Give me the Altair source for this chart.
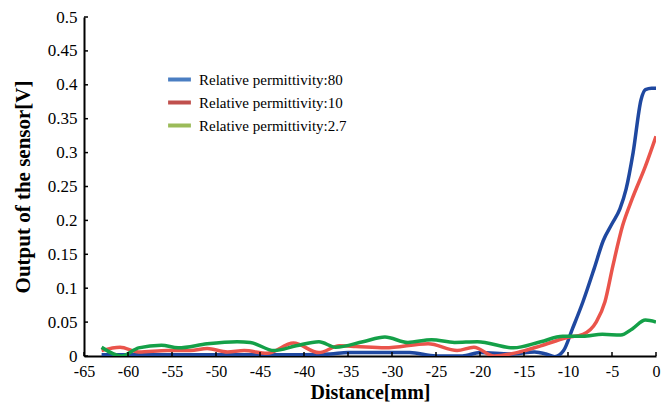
import altair as alt
import pandas as pd

series_names = ["Relative permittivity:80", "Relative permittivity:10", "Relative permittivity:2.7"]

x80 = [-63, -60, -55, -50, -45, -40, -37, -35, -30, -28, -25, -22, -20, -16.5, -13.8, -12.5, -11.5,
       -10.5, -9.5, -8.3, -7, -6, -5, -4.1, -3.4, -2.6, -1.7, -1.2, -0.5, 0]
y80 = [0.002, 0.002, 0.002, 0.002, 0.002, 0.002, 0.003, 0.005, 0.005, 0.005, 0.0, 0.0, 0.005, 0.003,
       0.006, 0.003, -0.001, 0.008, 0.04, 0.08, 0.13, 0.17, 0.195, 0.217, 0.246, 0.30, 0.378, 0.393, 0.395, 0.395]

x10 = [-63, -60.9, -58.8, -55.5, -52.9, -51, -48.7, -46.8, -44.2, -41.2, -38.3, -36, -34.1, -30.8,
       -25.9, -22.6, -20.7, -18.4, -15.8, -13.1, -10.2, -8.3, -6.8, -5.8, -4.9, -3.8, -2.7, -1.2, 0]
y10 = [0.008, 0.013, 0.006, 0.008, 0.008, 0.011, 0.006, 0.008, 0.004, 0.019, 0.005, 0.015, 0.014, 0.012,
       0.018, 0.008, 0.013, 0.0, 0.005, 0.015, 0.027, 0.032, 0.05, 0.08, 0.133, 0.192, 0.232, 0.280, 0.324]

x27 = [-63, -60.7, -58.8, -56.2, -54.3, -51, -47.6, -46.1, -43.4, -40.9, -38.3, -36.4, -33.3, -30.8,
       -28.2, -25.5, -22.9, -20.3, -16.2, -13.1, -10.6, -8.3, -6.1, -4.0, -2.7, -1.2, 0]
y27 = [0.013, 0.0, 0.012, 0.016, 0.012, 0.018, 0.021, 0.020, 0.008, 0.015, 0.021, 0.013, 0.021, 0.028,
       0.020, 0.024, 0.020, 0.021, 0.012, 0.021, 0.029, 0.029, 0.032, 0.031, 0.040, 0.053, 0.050]

line_colors = ["#1f48a0", "#ea544b", "#14a048"]
legend_colors = ["#4a7ec2", "#c0504d", "#9bbb59"]

x_ticks = list(range(-65, 1, 5))
y_ticks = [round(i * 0.05, 2) for i in range(11)]

rows = []
for name, xs, ys in zip(series_names, [x80, x10, x27], [y80, y10, y27]):
    for xv, yv in zip(xs, ys):
        rows.append({"series": name, "x": xv, "y": yv})
df = pd.DataFrame(rows)

FONT = "Liberation Serif"

xscale = alt.Scale(domain=[-65, 0], nice=False, zero=False)
yscale = alt.Scale(domain=[0, 0.5], nice=False)

xaxis = alt.Axis(values=x_ticks, title="Distance[mm]", labelExpr="toString(datum.value)",
                 labelFont=FONT, labelFontSize=16,
                 titleFont=FONT, titleFontSize=20, titleFontWeight="bold", labelColor="black",
                 titleColor="black", domainColor="black", domainWidth=2, ticks=False,
                 labelPadding=7, titlePadding=3, grid=False, labelFlush=False, labelOverlap=False)
yaxis = alt.Axis(values=y_ticks, title="Output of the sensor[V]", labelExpr="toString(datum.value)",
                 labelFont=FONT,
                 labelFontSize=17, titleFont=FONT, titleFontSize=21, titleFontWeight="bold",
                 labelColor="black", titleColor="black", domainColor="black", domainWidth=2,
                 ticks=False, labelPadding=7, titlePadding=14, grid=False, labelFlush=False,
                 labelOverlap=False)

lines = alt.Chart(df).mark_line(interpolate="monotone", strokeWidth=3.5, clip=True).encode(
    x=alt.X("x:Q", scale=xscale, axis=xaxis),
    y=alt.Y("y:Q", scale=yscale, axis=yaxis),
    color=alt.Color("series:N", scale=alt.Scale(domain=series_names, range=line_colors), legend=None),
)

legend_layer = alt.Chart(df).mark_line(opacity=0).encode(
    x=alt.X("x:Q", scale=xscale, axis=xaxis),
    y=alt.Y("y:Q", scale=yscale, axis=yaxis),
    color=alt.Color("series:N", scale=alt.Scale(domain=series_names, range=legend_colors),
                    legend=alt.Legend(title=None, orient="none", legendX=82, legendY=49,
                                      symbolType="stroke", symbolStrokeWidth=4, symbolOpacity=1,
                                      symbolSize=520, labelFont=FONT, labelFontSize=15,
                                      labelColor="black", rowPadding=1, labelOffset=6)),
)

ytick_df = pd.DataFrame({"v": y_ticks})
ytick_layer = alt.Chart(ytick_df).mark_rule(color="black", strokeWidth=1.5).encode(
    y=alt.Y("v:Q", scale=yscale, axis=yaxis), x=alt.value(0), x2=alt.value(4))
xtick_df = pd.DataFrame({"v": x_ticks})
xtick_layer = alt.Chart(xtick_df).mark_rule(color="black", strokeWidth=1.5).encode(
    x=alt.X("v:Q", scale=xscale, axis=xaxis), y=alt.value(339), y2=alt.value(335))

chart = alt.layer(lines, legend_layer, ytick_layer, xtick_layer).resolve_scale(
    color="independent"
).properties(
    width=572, height=339,
    autosize=alt.AutoSizeParams(type="none"),
    padding={"left": 76, "top": 9, "right": 6, "bottom": 47},
    background="white",
).configure_view(stroke=None)

chart.save("out.html", embed_options={"renderer": "svg", "actions": False})
